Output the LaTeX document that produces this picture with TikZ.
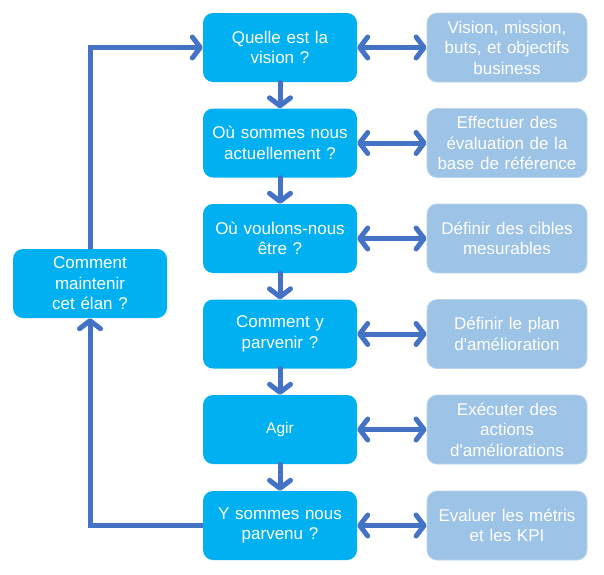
\documentclass[tikz,border=0pt]{standalone}
\usepackage{fontspec}
\setmainfont{Liberation Sans}
\newfontfamily\apofont{Liberation Sans}
\usetikzlibrary{arrows.meta}
\definecolor{cyanbox}{HTML}{00B0F0}
\definecolor{lightbox}{HTML}{9DC3E6}
\definecolor{arrowblue}{HTML}{4472C4}
\newcommand\sq{{\apofont '}}
\begin{document}
\begin{tikzpicture}[x=1pt,y=-1pt,
  qbox/.style={fill=cyanbox, rounded corners=10pt, minimum width=154pt, minimum height=69pt, inner sep=2pt,
    text=white, align=center, font=\fontsize{17}{20.5}\selectfont, text width=150pt},
  abox/.style={fill=lightbox, draw=lightbox!70!white, line width=0.8pt, rounded corners=10pt, minimum width=160pt, minimum height=69pt, inner sep=2pt,
    text=white, align=center, font=\fontsize{17}{20.5}\selectfont, text width=156pt},
  conn/.style={draw=arrowblue, line width=5pt, line cap=round,
    -{Straight Barb[length=8pt,width=21pt,line width=5pt,round]}},
  biconn/.style={conn, {Straight Barb[length=8pt,width=21pt,line width=5pt,round]}-{Straight Barb[length=8pt,width=21pt,line width=5pt,round]}}
]
\useasboundingbox (0,0) rectangle (604,574);
\node[qbox] (q1) at (280,47.5) {Quelle est la\\vision ?};
\node[qbox] (q2) at (280,143) {Où sommes nous\\actuellement ?};
\node[qbox] (q3) at (280,238.5) {Où voulons-nous\\être ?};
\node[qbox] (q4) at (280,334) {Comment y\\parvenir ?};
\node[qbox, font=\fontsize{15.5}{20}\selectfont] (q5) at (280,429.5) {Agir};
\node[qbox] (q6) at (280,525.5) {Y sommes nous\\parvenu ?};
\node[qbox] (m) at (90,283.5) {Comment\\maintenir\\cet élan ?};

\node[abox] (a1) at (507,47.5) {Vision, mission,\\buts, et objectifs\\business};
\node[abox] (a2) at (507,143) {Effectuer des\\évaluation de la\\base de référence};
\node[abox] (a3) at (507,238.5) {Définir des cibles\\mesurables};
\node[abox] (a4) at (507,334) {Définir le plan\\d\sq amélioration};
\node[abox] (a5) at (507,429.5) {Exécuter des\\actions\\d\sq améliorations};
\node[abox] (a6) at (507,525.5) {Evaluer les métris\\et les KPI};

\foreach \i/\j in {1/2,2/3,3/4,4/5,5/6}{
  \draw[conn] (q\i.south) -- (q\j.north);
}
\foreach \i in {1,...,6}{
  \draw[biconn] (q\i.east) -- (a\i.west);
}
\draw[conn, line cap=butt] (q6.west) -| (m.south);
\draw[conn, line cap=butt] (m.north) |- (q1.west);
\end{tikzpicture}
\end{document}
